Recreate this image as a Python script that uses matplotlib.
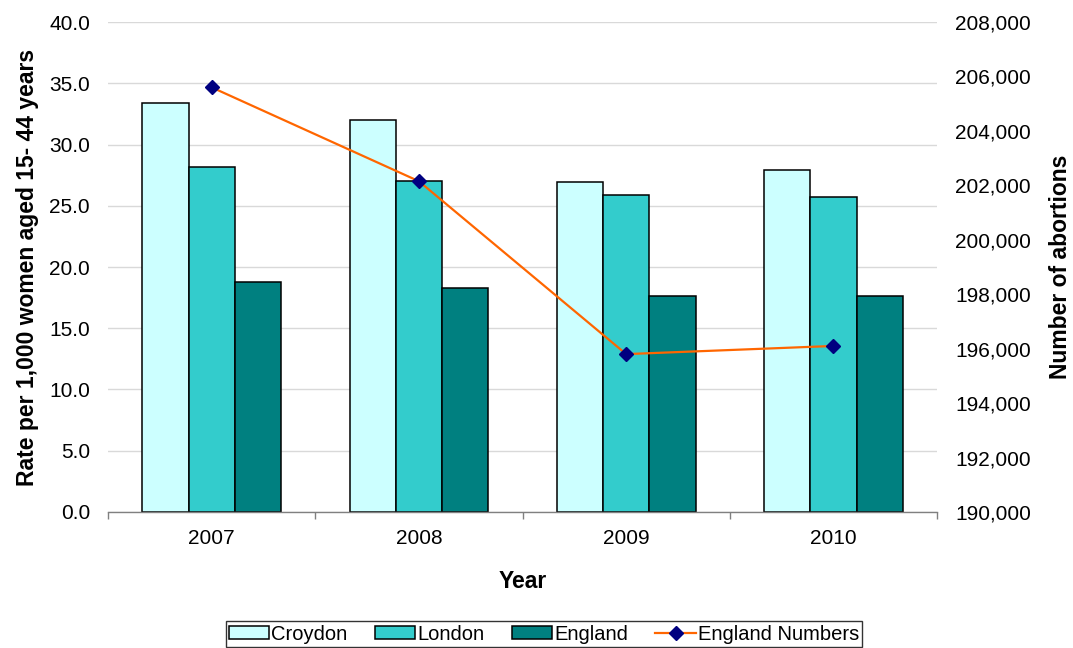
import numpy as np
import matplotlib
matplotlib.use("Agg")
import matplotlib.pyplot as plt
from matplotlib.ticker import FuncFormatter

plt.rcParams['font.family'] = ['Liberation Sans', 'DejaVu Sans']

# data
years = ["2007", "2008", "2009", "2010"]
croydon = [33.4, 32.0, 26.9, 27.9]
london = [28.2, 27.0, 25.9, 25.7]
england = [18.8, 18.3, 17.6, 17.6]
england_numbers = [205600, 202150, 195800, 196100]

fig = plt.figure(figsize=(10.73, 6.48), dpi=100)
ax = fig.add_axes([0.1007, 0.2099, 0.7726, 0.7561])

x = np.arange(len(years))
w = 0.223
ax.bar(x - w, croydon, w, color="#CCFFFF", edgecolor="black", linewidth=1.1, label="Croydon")
ax.bar(x, london, w, color="#33CCCC", edgecolor="black", linewidth=1.1, label="London")
ax.bar(x + w, england, w, color="#008080", edgecolor="black", linewidth=1.1, label="England")

ax.set_xlim(-0.5, len(years) - 0.5)
ax.set_ylim(0, 40)
ax.set_yticks(np.arange(0, 40.1, 5))
ax.yaxis.set_major_formatter(FuncFormatter(lambda v, p: "%.1f" % v))
ax.set_xticks(x)
ax.set_xticklabels(years)
ax.set_xticks(np.arange(-0.5, len(years)), minor=True)
ax.tick_params(axis="x", which="major", length=0, labelsize=15, pad=12)
ax.tick_params(axis="x", which="minor", length=5, color="#808080", width=1)
ax.tick_params(axis="y", length=0, labelsize=15, pad=13)
ax.grid(axis="y", color="#D9D9D9", linewidth=1)
ax.set_axisbelow(True)
for s in ["left", "right", "top"]:
    ax.spines[s].set_visible(False)
ax.spines["bottom"].set_color("#808080")
ax.spines["bottom"].set_linewidth(1)

ax.set_xlabel("Year", fontsize=16.5, fontweight="bold", labelpad=16)
ax.set_ylabel("Rate per 1,000 women aged 15- 44 years", fontsize=16.5, fontweight="bold", labelpad=7)

ax2 = ax.twinx()
ax2.plot(x, england_numbers, color="#FF6600", linewidth=1.6, marker="D", markersize=7,
         markerfacecolor="#000080", markeredgecolor="#000080", label="England Numbers")
ax2.set_ylim(190000, 208000)
ax2.set_yticks(np.arange(190000, 208001, 2000))
ax2.yaxis.set_major_formatter(FuncFormatter(lambda v, p: "{:,.0f}".format(v)))
ax2.tick_params(axis="y", length=0, labelsize=15, pad=13)
for s in ["left", "right", "top", "bottom"]:
    ax2.spines[s].set_visible(False)
ax2.set_ylabel("Number of abortions", fontsize=16.5, fontweight="bold", labelpad=13)

h1, l1 = ax.get_legend_handles_labels()
h2, l2 = ax2.get_legend_handles_labels()
leg = fig.legend(h1 + h2, l1 + l2, loc="center", bbox_to_anchor=(0.507, 0.0216), ncol=4,
                 fontsize=14.5, frameon=True, fancybox=False, borderpad=0.15,
                 handlelength=2.0, handleheight=0.6, handletextpad=0.12, columnspacing=1.35,
                 borderaxespad=0)
leg.get_frame().set_edgecolor("black")
leg.get_frame().set_linewidth(1)

fig.savefig("out.png", dpi=100)
